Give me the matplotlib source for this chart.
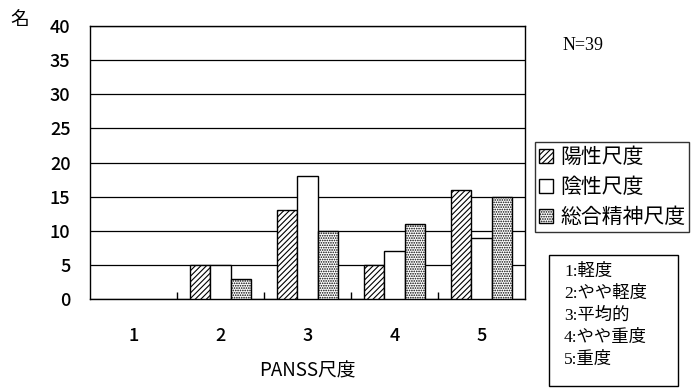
import numpy as np
import matplotlib
matplotlib.use("Agg")
import matplotlib.pyplot as plt
from matplotlib.patches import Patch, Rectangle

plt.rcParams['font.family'] = ['Noto Sans CJK JP', 'DejaVu Sans']
plt.rcParams['hatch.linewidth'] = 0.8

# ---------------- DATA ---------------- #

categories = ["1", "2", "3", "4", "5"]
positive = [0, 5, 13, 5, 16]   # 陽性尺度
negative = [0, 5, 18, 7, 9]    # 陰性尺度
general = [0, 3, 10, 11, 15]   # 総合精神尺度
series_names = ["陽性尺度", "陰性尺度", "総合精神尺度"]
scale_notes = ["1:軽度", "2:やや軽度", "3:平均的", "4:やや重度", "5:重度"]

W, H = 699, 392


def fx(px):
    return px / W


def fy(py):
    return 1 - py / H


# ---------------- PLOT ---------------- #

fig = plt.figure(figsize=(W / 100, H / 100), dpi=100)
ax = fig.add_axes([fx(90), fy(299), fx(525) - fx(90), fy(26) - fy(299)])

x = np.arange(len(categories))
w = 0.23
styles = [dict(facecolor="white", hatch="//////"),
          dict(facecolor="white"),
          dict(facecolor="white", hatch=".......")]

for i, vals in enumerate([positive, negative, general]):
    vals = np.array(vals)
    mask = vals > 0
    ax.bar(x[mask] + (i - 1) * w, vals[mask], width=w, edgecolor="black",
           linewidth=1.0, zorder=3, **styles[i])

ax.set_xlim(-0.5, 4.5)
ax.set_ylim(0, 40)
ax.set_yticks(range(0, 41, 5))
ax.set_xticks(x)
ax.set_xticklabels(categories)
ax.set_xticks(np.arange(0.5, 4.5, 1), minor=True)
ax.tick_params(axis="x", which="major", length=0, pad=20, labelsize=13)
ax.tick_params(axis="x", which="minor", direction="in", length=5, width=1)
ax.tick_params(axis="y", length=0, pad=14, labelsize=13)
for lbl in ax.get_xticklabels() + ax.get_yticklabels():
    lbl.set_fontweight("medium")
ax.grid(axis="y", color="black", linewidth=0.9, zorder=0)
for s in ax.spines.values():
    s.set_linewidth(1.0)

ax.set_xlabel("PANSS尺度", fontsize=13.5, labelpad=11)
fig.text(fx(10), fy(30), "名", fontsize=13.5, ha="left", va="bottom")
fig.text(fx(563), fy(46), "N=39", fontsize=13, family="Liberation Serif",
         ha="left", va="center")

# series legend
handles = [Patch(facecolor="white", edgecolor="black", hatch=s.get("hatch"))
           for s in styles]
fig.legend(handles, series_names, loc="upper left",
           bbox_to_anchor=(fx(535), fy(142)), fontsize=15, frameon=True,
           fancybox=False, edgecolor="black", handlelength=0.65,
           handleheight=0.65, handletextpad=0.35, borderpad=0.2,
           labelspacing=0.38, borderaxespad=0)

# scale notes box
fig.patches.append(Rectangle((fx(549), fy(386)), fx(678) - fx(549),
                             fy(255) - fy(386), transform=fig.transFigure,
                             facecolor="white", edgecolor="black",
                             linewidth=1.0))
for k, note in enumerate(scale_notes):
    fig.text(fx(564), fy(272 + 22 * k), note, fontsize=12.5,
             family=["Liberation Serif", "Noto Sans CJK JP"],
             ha="left", va="center")

fig.savefig("out.png", dpi=100)
